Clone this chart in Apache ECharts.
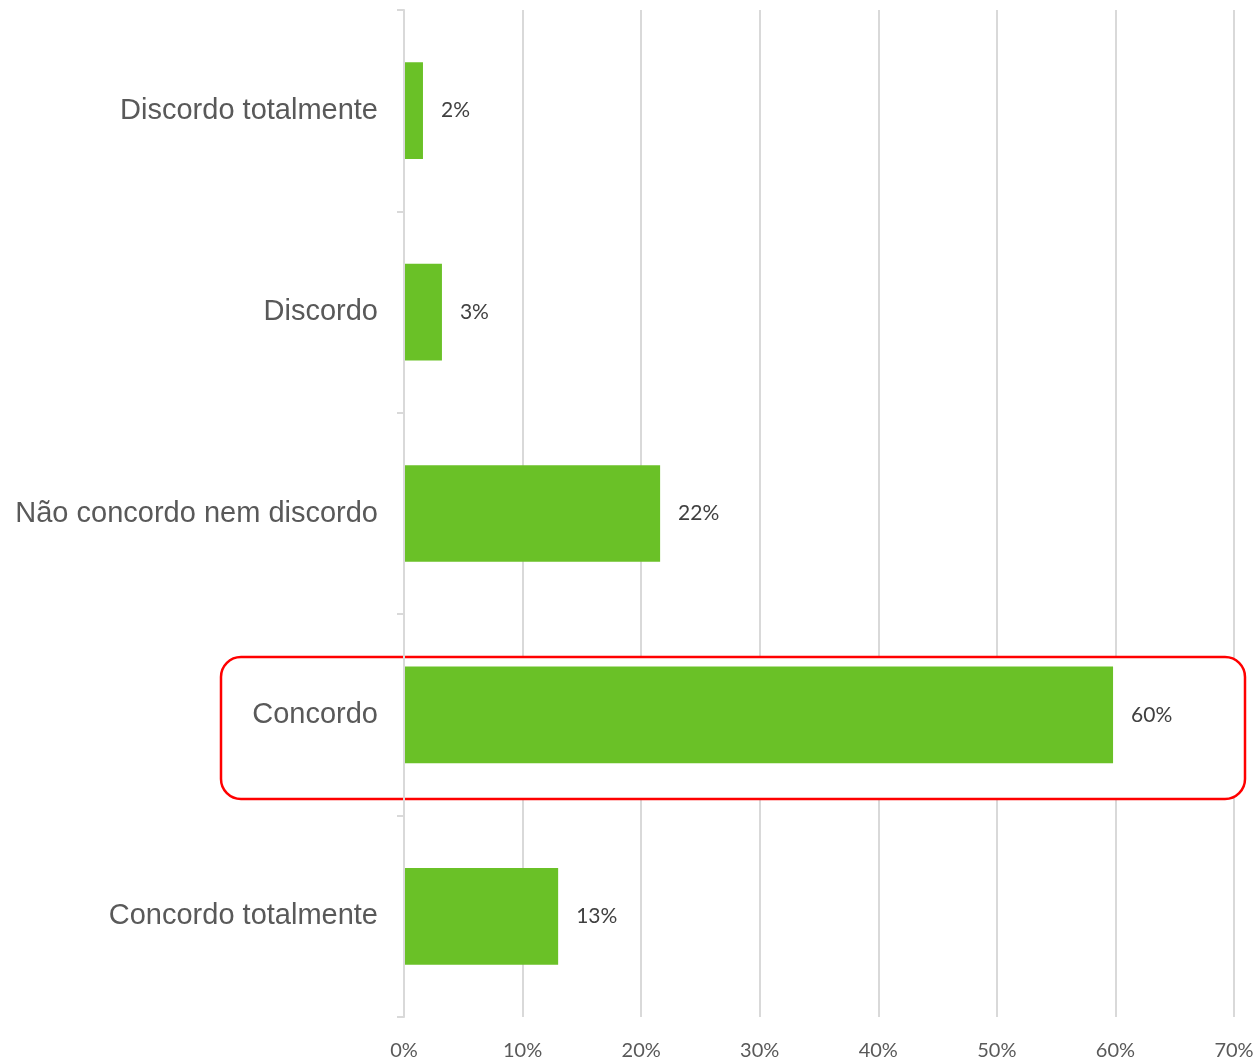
<!DOCTYPE html>
<html>
<head>
<meta charset="utf-8">
<script src="https://cdn.jsdelivr.net/npm/echarts@6/dist/echarts.min.js"></script>
<style>
  html, body { margin: 0; padding: 0; background: #fff; }
  #chart { width: 1258px; height: 1061px; }
</style>
</head>
<body>
<div id="chart"></div>
<script>
// Response categories, top to bottom
const categories = ['Discordo totalmente', 'Discordo', 'Não concordo nem discordo', 'Concordo', 'Concordo totalmente'];
// Share of responses (%)
const shares = [1.6, 3.2, 21.6, 59.8, 13.0];
// Value-axis ticks (%)
const xTicks = [0, 10, 20, 30, 40, 50, 60, 70];

const chart = echarts.init(document.getElementById('chart'));

chart.setOption({
  animation: false,
  backgroundColor: '#ffffff',
  grid: { left: 404, right: 24, top: 10, bottom: 43, containLabel: false },
  xAxis: {
    type: 'value',
    min: xTicks[0],
    max: xTicks[xTicks.length - 1],
    interval: 10,
    z: 0,
    axisLine: { show: false },
    axisTick: { show: false },
    splitLine: { show: true, lineStyle: { color: '#d9d9d9', width: 2 } },
    axisLabel: {
      formatter: v => v + '%',
      color: '#595959',
      fontFamily: 'Lato, "Open Sans", sans-serif',
      fontSize: 20,
      margin: 24
    }
  },
  yAxis: {
    type: 'category',
    data: categories,
    inverse: true,
    z: 5,
    axisLine: { show: true, lineStyle: { color: '#d9d9d9', width: 2 } },
    axisTick: { show: true, length: 7, lineStyle: { color: '#d9d9d9', width: 2 } },
    axisLabel: {
      color: '#595959',
      fontFamily: '"Liberation Sans", Arial, sans-serif',
      fontSize: 29,
      margin: 26,
      padding: [10, 0, 0, 0]
    }
  },
  series: [{
    type: 'bar',
    data: shares,
    barWidth: '48%',
    z: 3,
    itemStyle: { color: '#6ac127' },
    label: {
      show: true,
      position: 'right',
      distance: 18,
      formatter: p => Math.round(p.value) + '%',
      color: '#404040',
      fontFamily: 'Lato, "Open Sans", sans-serif',
      fontSize: 21,
      padding: [8, 0, 0, 0]
    }
  }],
  graphic: [{
    type: 'rect',
    z: 1,
    shape: { x: 221, y: 657, width: 1024, height: 142, r: 20 },
    style: { fill: '#ffffff', stroke: '#ff0000', lineWidth: 2.5 }
  }]
});
</script>
</body>
</html>
